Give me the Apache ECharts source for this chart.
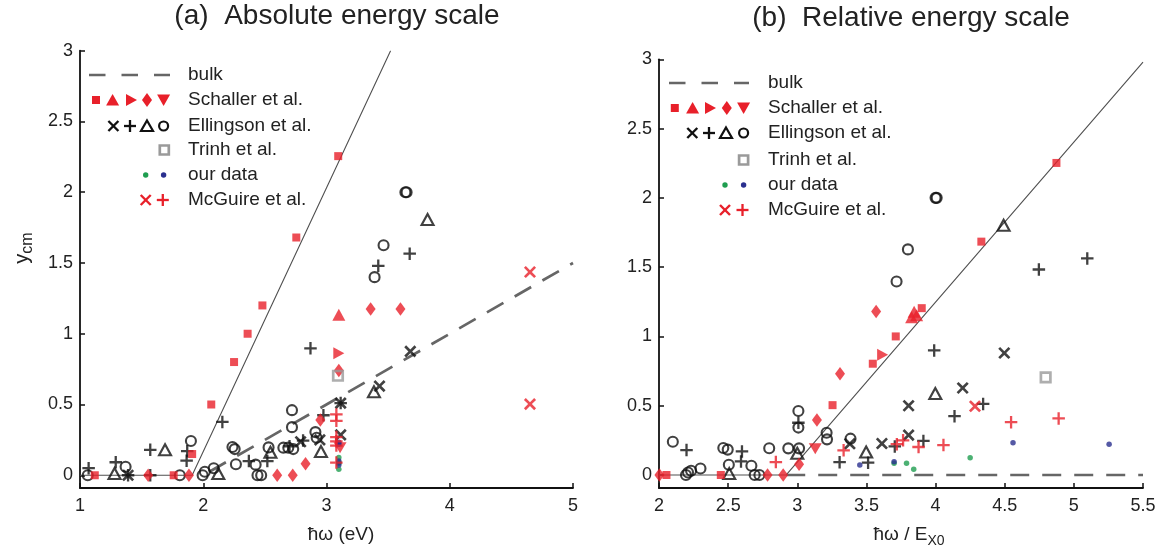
<!DOCTYPE html>
<html><head><meta charset="utf-8">
<script src="https://cdn.jsdelivr.net/npm/echarts@6/dist/echarts.min.js"></script>
<style>html,body{margin:0;padding:0;background:#fff}#c{width:1167px;height:552px}</style>
</head><body><div id="c"></div>
<script>
// ---------- tick labels ----------
const yTicks = [0, 0.5, 1, 1.5, 2, 2.5, 3];
const xTicksA = [1, 2, 3, 4, 5];
const xTicksB = [2, 2.5, 3, 3.5, 4, 4.5, 5, 5.5];

// ---------- (a) absolute energy scale ----------
const fitA = [[1, 0], [1.91, 0], [3.52, 3]];
const bulkA = [[2.05, 0.025], [5, 1.5]];
const schSqA = [[1.12,0],[1.76,0],[1.91,0.15],[2.065,0.5],[2.25,0.8],[2.36,1.0],[2.48,1.2],[2.755,1.68],[3.095,2.255]];
const schTriA = [[3.10,1.135]];
const schRtA = [[3.10,0.862]];
const schDiaA = [[1.553,0],[1.884,0],[2.60,0],[2.726,0],[2.83,0.082],[2.95,0.39],[3.10,0.74],[3.358,1.175],[3.60,1.175]];
const schDtA = [[3.11,0.195]];
const ellXA = [[1.39,0],[2.79,0.237],[2.946,0.25],[3.115,0.51],[3.115,0.285],[3.43,0.63],[3.68,0.875]];
const ellPlusA = [[1.07,0.05],[1.29,0.092],[1.39,0],[1.57,0],[1.57,0.18],[1.865,0.103],[1.87,0.17],[2.155,0.377],[2.37,0.10],[2.52,0.10],[2.70,0.205],[2.81,0.245],[2.87,0.897],[2.975,0.424],[3.115,0.51],[3.42,1.48],[3.675,1.566]];
const ellTriA = [[1.28,0.012],[1.69,0.18],[2.122,0.012],[2.545,0.163],[2.955,0.168],[3.385,0.59],[3.82,1.807]];
const ellCircA = [[1.063,0],[1.37,0.06],[1.81,0],[1.90,0.242],[1.995,0],[2.013,0.025],[2.085,0.05],[2.237,0.20],[2.255,0.185],[2.265,0.078],[2.425,0.075],[2.44,0],[2.47,0],[2.53,0.197],[2.65,0.195],[2.69,0.195],[2.73,0.185],[2.72,0.46],[2.72,0.34],[2.91,0.305],[2.92,0.265],[3.39,1.40],[3.463,1.625],[3.64,2.0],[3.65,2.0]];
const trinhA = [[3.093,0.703]];
const ourGreenA = [[3.10,0.125],[3.10,0.09],[3.10,0.085],[3.10,0.043]];
const ourNavyA = [[3.10,0.072],[3.10,0.10],[3.10,0.233],[3.10,0.221]];
const mcXA = [[4.651,1.436],[4.651,0.503]];
const mcPlusA = [[3.08,0.43],[3.08,0.385],[3.08,0.27],[3.08,0.24],[3.08,0.21],[3.08,0.09]];

// ---------- (b) relative energy scale ----------
const fitB = [[2, 0], [2.92, 0], [5.5, 2.98]];
const bulkB = [[2.92, 0], [5.5, 0]];
const schSqB = [[2.054,0],[2.447,0],[3.255,0.504],[3.546,0.803],[3.712,1.0],[3.90,1.204],[4.331,1.684],[4.874,2.252]];
const schTriB = [[3.827,1.138],[3.845,1.178],[3.863,1.152]];
const schRtB = [[3.617,0.867]];
const schDiaB = [[2.003,0],[2.785,0],[2.898,0],[3.013,0.077],[3.142,0.396],[3.309,0.731],[3.57,1.18]];
const schDtB = [[3.13,0.19]];
const ellXB = [[3.38,0.225],[3.612,0.227],[3.805,0.288],[3.805,0.50],[4.196,0.628],[4.497,0.88]];
const ellPlusB = [[2.199,0.18],[2.60,0.17],[2.593,0.098],[3.008,0.377],[3.306,0.092],[3.512,0.089],[3.705,0.206],[3.912,0.246],[3.99,0.899],[4.137,0.424],[4.344,0.513],[4.747,1.483],[5.097,1.563]];
const ellTriB = [[2.508,0.01],[3.0,0.157],[3.498,0.166],[3.998,0.588],[4.492,1.802]];
const ellCircB = [[2.10,0.24],[2.195,0],[2.21,0.018],[2.232,0.031],[2.30,0.047],[2.465,0.195],[2.497,0.183],[2.505,0.074],[2.668,0.067],[2.692,0],[2.726,0],[2.797,0.193],[2.935,0.192],[3.013,0.192],[3.008,0.462],[3.008,0.342],[3.212,0.305],[3.215,0.257],[3.385,0.262],[3.718,1.396],[3.80,1.628],[4.0,2.0],[4.008,2.0]];
const trinhB = [[4.796,0.705]];
const ourGreenB = [[3.70,0.085],[3.79,0.085],[3.842,0.041],[4.25,0.125]];
const ourNavyB = [[3.452,0.072],[3.70,0.095],[4.56,0.233],[5.255,0.221]];
const mcXB = [[4.285,0.496]];
const mcPlusB = [[2.845,0.093],[3.335,0.178],[3.72,0.222],[3.765,0.25],[3.877,0.202],[4.057,0.216],[4.546,0.381],[4.89,0.408]];

const legendNames = ['bulk', 'Schaller et al.', 'Ellingson et al.', 'Trinh et al.', 'our data', 'McGuire et al.'];

// ---------- styles ----------
const FONT = '"Liberation Sans", Arial, Helvetica, sans-serif';
const RED = '#e8202a', BLK = '#111111', GRY = '#9a9a9a', GRN = '#1f9e50', NAV = '#2a2f8f';
const LINEC = '#505050', DASHC = '#666666', TXT = '#222';
const PLUS = 'path://M-1.1,-6H1.1V-1.1H6V1.1H1.1V6H-1.1V1.1H-6V-1.1H-1.1Z';
const TRI = 'path://M5,0L10,9L0,9Z';
const RTRI = 'path://M0,0L9,5L0,10Z';
const DTRI = 'path://M0,0L10,0L5,9Z';

function sc(data, ai, symbol, size, itemStyle, rot) {
  return {type: 'scatter', xAxisIndex: ai, yAxisIndex: ai, data: data, symbol: symbol,
    symbolSize: size, symbolRotate: rot || 0, itemStyle: itemStyle, silent: true, z: 3};
}
const fillS = c => ({color: c});
const openS = (c, w) => ({color: 'rgba(0,0,0,0)', borderColor: c, borderWidth: w});

function panel(ai, d) {
  return [
    {type: 'line', xAxisIndex: ai, yAxisIndex: ai, data: d.fit, showSymbol: false, silent: true, z: 2,
     lineStyle: {color: LINEC, width: 1.1}},
    {type: 'line', xAxisIndex: ai, yAxisIndex: ai, data: d.bulk, showSymbol: false, silent: true, z: 2,
     lineStyle: {color: DASHC, width: 2.7, type: [19, 13]}},
    sc(d.ellCirc, ai, 'circle', 10, openS(BLK, 2.1)),
    sc(d.ellTri, ai, 'triangle', [12, 11], openS(BLK, 2.1)),
    sc(d.ellPlus, ai, PLUS, 12.5, fillS(BLK)),
    sc(d.ellX, ai, PLUS, 14.5, fillS(BLK), 45),
    sc(d.schSq, ai, 'rect', 8, fillS(RED)),
    sc(d.schTri, ai, TRI, [13, 12], fillS(RED)),
    sc(d.schRt, ai, RTRI, [11, 12], fillS(RED)),
    sc(d.schDia, ai, 'diamond', [10, 13.5], fillS(RED)),
    sc(d.schDt, ai, DTRI, [13, 11], fillS(RED)),
    sc(d.trinh, ai, 'rect', 9.5, openS(GRY, 2.7)),
    sc(d.green, ai, 'circle', 5.5, fillS(GRN)),
    sc(d.navy, ai, 'circle', 5.5, fillS(NAV)),
    sc(d.mcPlus, ai, PLUS, 12.5, fillS(RED)),
    sc(d.mcX, ai, PLUS, 14.5, fillS(RED), 45)
  ];
}

// ---------- legend & text graphics ----------
function g(kind, x, y, c) {
  switch (kind) {
    case 'sq': return [{type: 'rect', shape: {x: x - 4, y: y - 4, width: 8, height: 8}, style: {fill: c}}];
    case 'tri': return [{type: 'polygon', shape: {points: [[x, y - 6], [x + 6.5, y + 5.5], [x - 6.5, y + 5.5]]}, style: {fill: c}}];
    case 'rtri': return [{type: 'polygon', shape: {points: [[x - 5, y - 6], [x + 6, y], [x - 5, y + 6]]}, style: {fill: c}}];
    case 'dia': return [{type: 'polygon', shape: {points: [[x, y - 7], [x + 5, y], [x, y + 7], [x - 5, y]]}, style: {fill: c}}];
    case 'dtri': return [{type: 'polygon', shape: {points: [[x - 6.5, y - 5.5], [x + 6.5, y - 5.5], [x, y + 6]]}, style: {fill: c}}];
    case 'plus': return [
      {type: 'rect', shape: {x: x - 6, y: y - 1.15, width: 12, height: 2.3}, style: {fill: c}},
      {type: 'rect', shape: {x: x - 1.15, y: y - 6, width: 2.3, height: 12}, style: {fill: c}}];
    case 'x': return [
      {type: 'line', shape: {x1: x - 5, y1: y - 5, x2: x + 5, y2: y + 5}, style: {stroke: c, lineWidth: 2.4}},
      {type: 'line', shape: {x1: x - 5, y1: y + 5, x2: x + 5, y2: y - 5}, style: {stroke: c, lineWidth: 2.4}}];
    case 'otri': return [{type: 'polygon', shape: {points: [[x, y - 5.5], [x + 6, y + 5], [x - 6, y + 5]]}, style: {fill: 'none', stroke: c, lineWidth: 2.2}}];
    case 'ocirc': return [{type: 'circle', shape: {cx: x, cy: y, r: 4.5}, style: {fill: 'none', stroke: c, lineWidth: 2.2}}];
    case 'osq': return [{type: 'rect', shape: {x: x - 4.5, y: y - 4.5, width: 9, height: 9}, style: {fill: 'none', stroke: c, lineWidth: 2.7}}];
    case 'dot': return [{type: 'circle', shape: {cx: x, cy: y, r: 2.7}, style: {fill: c}}];
  }
  return [];
}
function txt(text, x, y, size, align, extra) {
  return Object.assign({type: 'text', x: x, y: y, silent: true, style: {
    text: text, fontSize: size, fontFamily: FONT, fill: TXT,
    align: align || 'left', verticalAlign: 'middle', textAlign: align || 'left', textVerticalAlign: 'middle'}}, extra || {});
}
const cv = document.createElement('canvas').getContext('2d');
function tw(t, s) { cv.font = s + 'px ' + FONT; return cv.measureText(t).width; }
function subLabel(main, sub, cx, cy, ms, ss, rot) {
  const w1 = tw(main, ms), w2 = tw(sub, ss), tot = w1 + w2;
  return {type: 'group', x: cx, y: cy, rotation: rot || 0, silent: true, children: [
    txt(main, -tot / 2, 0, ms, 'left'),
    txt(sub, -tot / 2 + w1, ms * 0.3, ss, 'left')
  ]};
}

function legend(x0, rows, xText) {
  const out = [];
  out.push({type: 'line', shape: {x1: x0.bulk[0], y1: rows[0], x2: x0.bulk[1], y2: rows[0]},
    style: {stroke: DASHC, lineWidth: 2.7, lineDash: [16.5, 16]}});
  const sets = [
    [['sq', RED], ['tri', RED], ['rtri', RED], ['dia', RED], ['dtri', RED]],
    [['x', BLK], ['plus', BLK], ['otri', BLK], ['ocirc', BLK]],
    [['osq', GRY]],
    [['dot', GRN], ['dot', NAV]],
    [['x', RED], ['plus', RED]]
  ];
  sets.forEach((s, i) => {
    const xs = x0.sym[i];
    s.forEach((k, j) => out.push(...g(k[0], xs[j], rows[i + 1], k[1])));
  });
  legendNames.forEach((n, i) => out.push(txt(n, xText, rows[i], 19, 'left')));
  return out;
}

const legA = legend({bulk: [89, 170], sym: [[96, 112.6, 131, 147, 163.6], [113.4, 130, 147, 163.6], [164.3], [145.7, 163.6], [145.7, 162.8]]},
  [75, 100, 126, 150, 175, 200], 188);
const legB = legend({bulk: [669, 749], sym: [[674.8, 692.6, 710, 726.8, 743.6], [692.3, 709, 726, 743.6], [743.6], [725, 743.6], [725, 742.5]]},
  [83, 108, 133, 160, 185, 210], 768);

const graphics = [].concat(legA, legB, [
  txt('(a)  Absolute energy scale', 337, 16, 28, 'center'),
  txt('(b)  Relative energy scale', 911, 18, 28, 'center'),
  txt('ħω (eV)', 341, 535, 19, 'center'),
  subLabel('ħω / E', 'X0', 909, 535, 19, 14, 0),
  subLabel('y', 'cm', 22, 248, 20, 16, Math.PI / 2)
]);

// ---------- axes ----------
function xAx(gi, min, max, ticks) {
  return {gridIndex: gi, type: 'value', min: min, max: max,
    axisLine: {show: true, onZero: false, lineStyle: {color: '#111', width: 1.8}},
    axisTick: {show: true, inside: true, length: 5, customValues: ticks, lineStyle: {color: '#111', width: 1.5}},
    axisLabel: {customValues: ticks, fontSize: 18, color: TXT, fontFamily: FONT, margin: 9},
    splitLine: {show: false}};
}
function yAx(gi, min) {
  return {gridIndex: gi, type: 'value', min: min, max: 3,
    axisLine: {show: true, onZero: false, lineStyle: {color: '#111', width: 1.8}},
    axisTick: {show: true, inside: true, length: 5, customValues: yTicks, lineStyle: {color: '#111', width: 1.5}},
    axisLabel: {customValues: yTicks, fontSize: 18, color: TXT, fontFamily: FONT, margin: 7},
    splitLine: {show: false}};
}

const chart = echarts.init(document.getElementById('c'), null, {renderer: 'canvas'});
chart.setOption({
  animation: false,
  backgroundColor: '#fff',
  grid: [
    {left: 80, top: 50.7, width: 493, height: 437.3},
    {left: 659, top: 59.3, width: 484, height: 428.7}
  ],
  xAxis: [xAx(0, 1, 5, xTicksA), xAx(1, 2, 5.5, xTicksB)],
  yAxis: [yAx(0, -0.09), yAx(1, -0.094)],
  series: [].concat(
    panel(0, {fit: fitA, bulk: bulkA, schSq: schSqA, schTri: schTriA, schRt: schRtA, schDia: schDiaA, schDt: schDtA,
      ellX: ellXA, ellPlus: ellPlusA, ellTri: ellTriA, ellCirc: ellCircA, trinh: trinhA,
      green: ourGreenA, navy: ourNavyA, mcX: mcXA, mcPlus: mcPlusA}),
    panel(1, {fit: fitB, bulk: bulkB, schSq: schSqB, schTri: schTriB, schRt: schRtB, schDia: schDiaB, schDt: schDtB,
      ellX: ellXB, ellPlus: ellPlusB, ellTri: ellTriB, ellCirc: ellCircB, trinh: trinhB,
      green: ourGreenB, navy: ourNavyB, mcX: mcXB, mcPlus: mcPlusB})
  ),
  graphic: {elements: graphics}
});
</script>
</body></html>
